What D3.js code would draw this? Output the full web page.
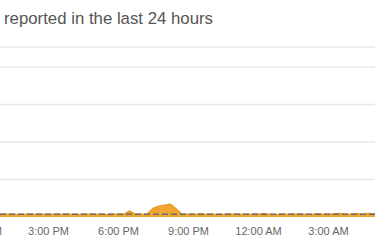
<!DOCTYPE html>
<html>
<head>
<meta charset="utf-8">
<script src="https://cdn.jsdelivr.net/npm/d3@7"></script>
<style>
  body { margin: 0; background: #fff; }
  svg { display: block; font-family: "Liberation Sans", Arial, sans-serif; }
</style>
</head>
<body>
<script>
// reports every 15 minutes, starting 11:00 AM
var startTime = new Date(2020, 0, 1, 11, 0);
var reports = [
  1.5, 1.6, 1.4, 1.5, 1.7, 1.5, 1.4, 1.6, 1.5, 1.5,
  1.6, 1.4, 1.5, 1.5, 1.6, 1.5, 1.4, 1.5, 1.6, 1.5,
  1.5, 1.4, 1.5, 1.6, 1.5, 1.5, 1.4, 1.5, 1.5, 1.6,
  3.2, 1.5, 1.5, 1.6, 4.6, 5.8, 6.3, 6.9, 4.3, 1.5,
  1.6, 1.4, 1.7, 1.5, 1.6, 1.4, 1.5, 1.7, 1.5, 1.6,
  1.4, 1.5, 1.6, 1.8, 1.5, 1.4, 1.6, 1.5, 1.7, 1.5,
  1.6, 1.4, 1.8, 1.6, 1.5, 1.7, 1.9, 1.6, 1.5, 1.8,
  1.6, 1.9, 1.7, 1.6, 1.8
];
var baselineValue = 1.5;
var gridValues = [20, 40, 60, 80];
var tickTimes = [
  new Date(2020, 0, 1, 12), new Date(2020, 0, 1, 15), new Date(2020, 0, 1, 18),
  new Date(2020, 0, 1, 21), new Date(2020, 0, 2, 0), new Date(2020, 0, 2, 3)
];
var titleText = "reported in the last 24 hours";

var width = 375, height = 250;

var data = reports.map(function(v, i){
  return {t: new Date(startTime.getTime() + i * 15 * 60000), v: v};
});

var svg = d3.select("body").append("svg")
  .attr("width", width)
  .attr("height", height);

// 12:00 PM sits just off the left edge, 70px per 3 hours
var x = d3.scaleTime()
  .domain([new Date(2020, 0, 1, 12), new Date(2020, 0, 2, 3)])
  .range([-22, 328]);

var y = d3.scaleLinear()
  .domain([0, 80])
  .range([217, 67]);

svg.append("text")
  .attr("x", 4)
  .attr("y", 24)
  .attr("fill", "#555")
  .style("font-size", "16.8px")
  .text(titleText);

svg.append("line")
  .attr("x1", 0).attr("x2", width)
  .attr("y1", 47).attr("y2", 47)
  .attr("stroke", "#e8e8e8")
  .attr("stroke-width", 1.5);

svg.selectAll(".grid")
  .data(gridValues)
  .enter()
  .append("line")
  .attr("class", "grid")
  .attr("x1", 0).attr("x2", width)
  .attr("y1", function(d){ return y(d); })
  .attr("y2", function(d){ return y(d); })
  .attr("stroke", "#e8e8e8")
  .attr("stroke-width", 1.5);

var area = d3.area()
  .x(function(d){ return x(d.t); })
  .y0(y(0))
  .y1(function(d){ return y(d.v); });

svg.append("path")
  .datum(data)
  .attr("d", area)
  .attr("fill", "#f0a431");

svg.append("path")
  .datum(data)
  .attr("d", d3.line().x(function(d){ return x(d.t); }).y(function(d){ return y(d.v); }))
  .attr("fill", "none")
  .attr("stroke", "#eb9a20")
  .attr("stroke-width", 1.2);

svg.append("line")
  .attr("x1", 0).attr("x2", width)
  .attr("y1", y(baselineValue)).attr("y2", y(baselineValue))
  .attr("stroke", "#6f6f6f")
  .attr("stroke-width", 1.5)
  .attr("stroke-dasharray", "6,3");

var xAxis = d3.axisBottom(x)
  .tickValues(tickTimes)
  .tickFormat(d3.timeFormat("%-I:%M %p"))
  .tickSize(0)
  .tickPadding(0);

var gx = svg.append("g")
  .attr("transform", "translate(0,227)")
  .call(xAxis);
gx.select(".domain").remove();
gx.selectAll("text")
  .attr("fill", "#666")
  .style("font-size", "11px")
  .style("font-family", "\"Liberation Sans\", Arial, sans-serif");
</script>
</body>
</html>
